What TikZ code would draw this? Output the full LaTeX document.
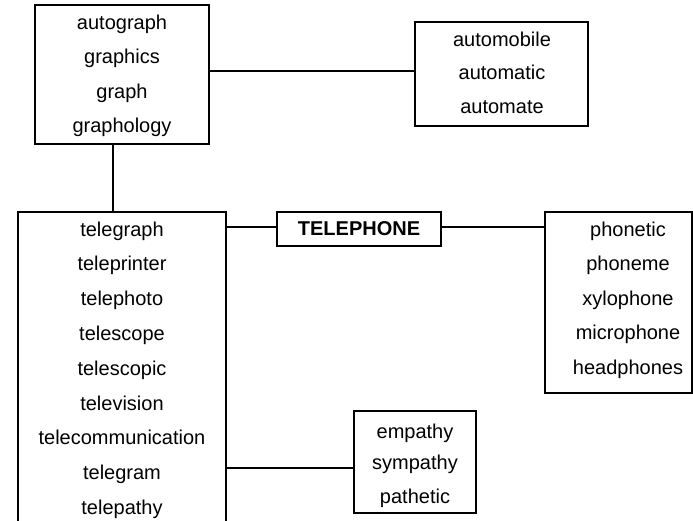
\documentclass[tikz,border=0pt]{standalone}
\usepackage{fontspec}
\setmainfont{Liberation Sans}
\usetikzlibrary{calc}
\tikzset{
  boxnode/.style={draw, line width=1.9pt, rectangle, inner sep=0pt, fill=none},
  wordnode/.style={inner sep=0pt, text height=14.5pt, text depth=4.2pt, font=\fontsize{20}{24}\selectfont},
  boldword/.style={wordnode, font=\fontsize{20}{24}\selectfont\bfseries},
  conn/.style={line width=1.9pt}
}
\begin{document}
\begin{tikzpicture}[x=1pt,y=-1pt]
\useasboundingbox (0,0) rectangle (693,521);
\clip (0,0) rectangle (693,521);
% boxes
\node[boxnode, minimum width=174pt, minimum height=139pt] (A) at (122,74.5) {};
\node[boxnode, minimum width=173pt, minimum height=104pt] (B) at (501.5,74) {};
\node[boxnode, minimum width=208pt, minimum height=333pt] (C) at (122,378.5) {};
\node[boxnode, minimum width=164pt, minimum height=34pt] (T) at (359,229) {};
\node[boxnode, minimum width=147pt, minimum height=181pt] (D) at (618.5,302.5) {};
\node[boxnode, minimum width=122pt, minimum height=102pt] (E) at (415,462) {};
% words in A
\node[wordnode] (a1) at (122,24.5) {autograph};
\node[wordnode] (a2) at (122,58.5) {graphics};
\node[wordnode] (a3) at (122,93) {graph};
\node[wordnode] (a4) at (122,127.5) {graphology};
% words in B
\node[wordnode] (b1) at (502,41) {automobile};
\node[wordnode] (b2) at (502,74.5) {automatic};
\node[wordnode] (b3) at (502,108) {automate};
% words in C
\node[wordnode] (c1) at (122,231) {telegraph};
\node[wordnode] (c2) at (122,265.8) {teleprinter};
\node[wordnode] (c3) at (122,300.6) {telephoto};
\node[wordnode] (c4) at (122,335.4) {telescope};
\node[wordnode] (c5) at (122,370.2) {telescopic};
\node[wordnode] (c6) at (122,405) {television};
\node[wordnode] (c7) at (122,439.8) {telecommunication};
\node[wordnode] (c8) at (122,474.6) {telegram};
\node[wordnode] (c9) at (122,509.4) {telepathy};
% TELEPHONE
\node[boldword] (t1) at (359,230) {TELEPHONE};
% words in D
\node[wordnode] (d1) at (628,231) {phonetic};
\node[wordnode] (d2) at (628,265.5) {phoneme};
\node[wordnode] (d3) at (628,300) {xylophone};
\node[wordnode] (d4) at (628,334.5) {microphone};
\node[wordnode] (d5) at (628,369.3) {headphones};
% words in E
\node[wordnode] (e1) at (415,433) {empathy};
\node[wordnode] (e2) at (415,464.5) {sympathy};
\node[wordnode] (e3) at (415,498.5) {pathetic};
% connectors
\coordinate (ab) at ($(A.east)+(0,-3.3)$);
\draw[conn] (ab) -- (ab -| B.west);
\coordinate (ac) at ($(A.south)+(-8.7,0)$);
\draw[conn] (ac) -- (ac |- C.north);
\coordinate (tw) at ($(T.west)+(0,-1.7)$);
\draw[conn] (tw -| C.east) -- (tw);
\coordinate (te) at ($(T.east)+(0,-1.7)$);
\draw[conn] (te) -- (te -| D.west);
\coordinate (ew) at ($(E.west)+(0,6.3)$);
\draw[conn] (ew -| C.east) -- (ew);
\end{tikzpicture}
\end{document}
